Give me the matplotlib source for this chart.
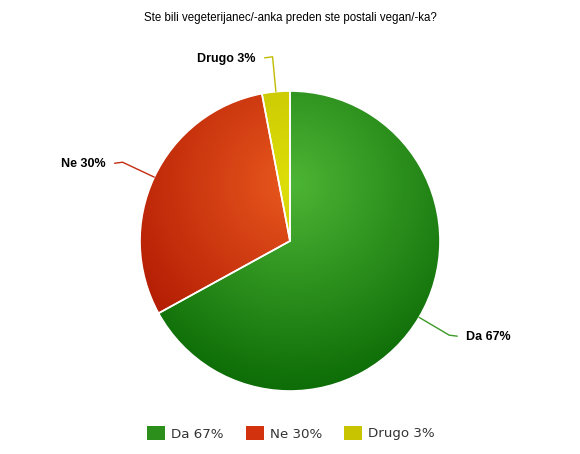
import matplotlib.pyplot as plt
import numpy as np
from matplotlib.patches import Rectangle
from matplotlib.colors import to_rgb

# data
labels = ['Da', 'Ne', 'Drugo']
values = [67, 30, 3]
title = 'Ste bili vegeterijanec/-anka preden ste postali vegan/-ka?'

# gradient colours (light centre -> dark rim)
light = ['#4db535', '#e9581e', '#dede08']
dark = ['#0b6a05', '#ac1400', '#b8b400']
legend_col = ['#2c8f1c', '#d2320e', '#c8c400']
line_col = ['#3c9a28', '#c42c10', '#c0bc00']

W, H = 580, 454
cx, cy, R = 290, H - 241, 150
gx, gy = 293, H - 183   # gradient centre

fig = plt.figure(figsize=(W / 100, H / 100), dpi=100)
ax = fig.add_axes([0, 0, 1, 1])

wedges, _ = ax.pie(values, center=(cx, cy), radius=R, startangle=90,
                   counterclock=False,
                   wedgeprops=dict(edgecolor='white', linewidth=1.2))

# radial gradient fill clipped to each wedge
xs = np.linspace(cx - R, cx + R, 300)
ys = np.linspace(cy - R, cy + R, 300)
X, Y = np.meshgrid(xs, ys)
t = np.clip(np.hypot(X - gx, Y - gy) / 215.0, 0, 1)[..., None]
for w, lc, dc in zip(wedges, light, dark):
    img = (1 - t) * np.array(to_rgb(lc)) + t * np.array(to_rgb(dc))
    im = ax.imshow(img, origin='lower', extent=(cx - R, cx + R, cy - R, cy + R),
                   zorder=1, interpolation='bilinear')
    im.set_clip_path(w)
    w.set_facecolor('none')
    w.set_zorder(2)

# labels with connectors
total = sum(values)
start = 90.0
for i, (lab, v) in enumerate(zip(labels, values)):
    mid = np.deg2rad(start - 360.0 * (v / total) / 2)
    start -= 360.0 * v / total
    ex, ey = cx + R * np.cos(mid), cy + R * np.sin(mid)
    bx, by = cx + (R + 35) * np.cos(mid), cy + (R + 35) * np.sin(mid)
    side = 1 if np.cos(mid) > 0 else -1
    endx = bx + side * 8
    ax.plot([ex, bx, endx], [ey, by, by - 1], color=line_col[i],
            lw=1, zorder=3, solid_capstyle='round')
    ax.text(endx + side * 9, by - 2, '%s %d%%' % (lab, v),
            ha='left' if side > 0 else 'right', va='center',
            fontsize=9, fontweight='bold', family='Liberation Sans', color='black')

ax.text(W / 2, H - 18, title, ha='center', va='center', fontsize=8.3,
        family='Liberation Sans', color='black')

# legend
lx = [147, 246, 344]
for i, (lab, v) in enumerate(zip(labels, values)):
    ax.add_patch(Rectangle((lx[i], H - 440), 18, 14, facecolor=legend_col[i],
                           edgecolor='none'))
    ax.text(lx[i] + 24, H - 434, '%s %d%%' % (lab, v), ha='left', va='center',
            fontsize=9.6, family='DejaVu Sans', color='#333333')

ax.set_xlim(0, W)
ax.set_ylim(0, H)
ax.axis('off')

plt.savefig('out.png', dpi=100)
